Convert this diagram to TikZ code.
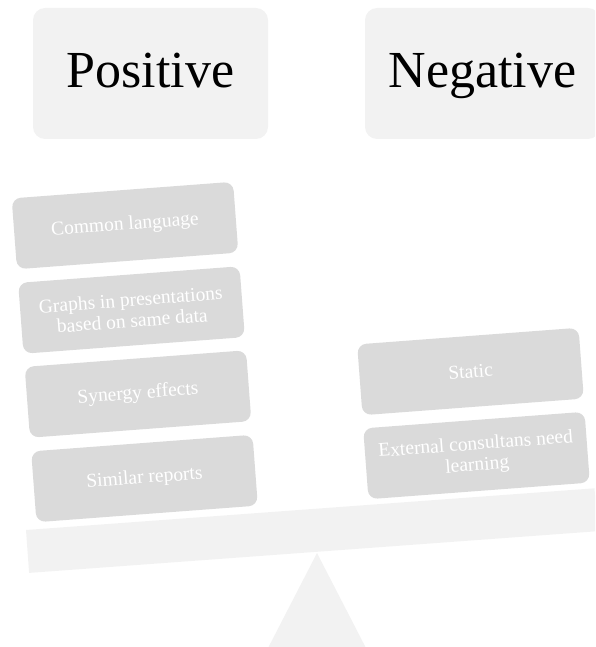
\documentclass[tikz,border=0pt]{standalone}
\usepackage{fontspec}
\setmainfont{Liberation Serif}
\definecolor{headfill}{HTML}{F2F2F2}
\definecolor{itemfill}{HTML}{DADADA}
\definecolor{beamfill}{HTML}{F2F2F2}
\begin{document}
\begin{tikzpicture}[x=1pt,y=-1pt,
  headbox/.style={fill=headfill, rounded corners=12pt, minimum width=235pt, minimum height=131pt, inner sep=0pt, text height=36pt, text depth=7pt, font=\fontsize{52}{54}\selectfont, text=black},
  itembox/.style={fill=itemfill, rounded corners=9pt, minimum width=222pt, minimum height=71pt, inner sep=0pt, align=center, rotate=4.3, text=white, font=\fontsize{19.5}{21}\selectfont},
  basefill/.style={fill=beamfill, draw=none}]
\useasboundingbox (0,0) rectangle (595,647);
\clip (0,0) rectangle (595,647);
\node[headbox] (pos) at (150.5,73.5) {Positive};
\node[headbox] (neg) at (482.5,73.5) {Negative};
% fulcrum and beam
\coordinate (apex) at (317,553);
\coordinate (bl) at (267,650);
\coordinate (br) at (367,650);
\fill[basefill] (apex) -- (br) -- (bl) -- cycle;
\coordinate (b1) at (26,530);
\coordinate (b2) at (594.5,488.3);
\coordinate (b3) at (597.6,531.2);
\coordinate (b4) at (29.1,572.9);
\fill[basefill] (b1) -- (b2) -- (b3) -- (b4) -- cycle;
% positive items
\node[itembox] (p1) at (125,225.5) {Common language};
\node[itembox] (p2) at (131.5,310) {Graphs in presentations\\based on same data};
\node[itembox] (p3) at (138,394) {Synergy effects};
\node[itembox] (p4) at (144.5,478.5) {Similar reports};
% negative items
\node[itembox] (n1) at (470.5,371.5) {Static};
\node[itembox] (n2) at (476.5,455.5) {External consultans need\\learning};
\end{tikzpicture}
\end{document}
